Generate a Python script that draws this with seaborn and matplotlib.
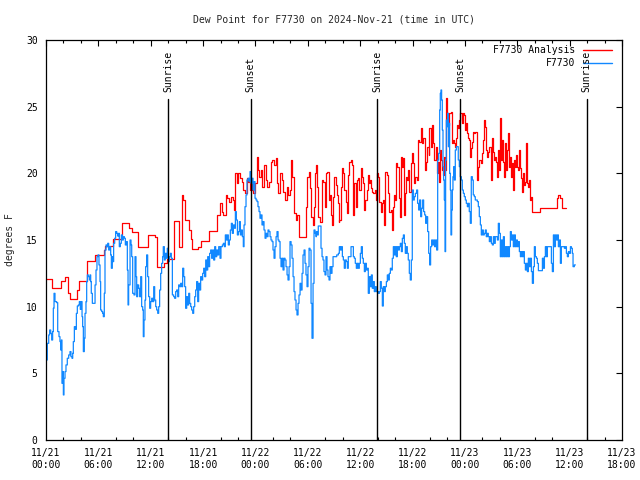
import matplotlib
matplotlib.use("Agg")
import matplotlib.pyplot as plt
import seaborn as sns
import pandas as pd
from matplotlib.lines import Line2D

title = "Dew Point for F7730 on 2024-Nov-21 (time in UTC)"
y_label = "degrees F"
analysis_name = "F7730 Analysis"
obs_name = "F7730"

# hours since 2024-11-21 00:00 UTC
xtick_hours = [0, 6, 12, 18, 24, 30, 36, 42, 48, 54, 60, 66]
xtick_labels = ["11/21\n00:00", "11/21\n06:00", "11/21\n12:00", "11/21\n18:00",
                "11/22\n00:00", "11/22\n06:00", "11/22\n12:00", "11/22\n18:00",
                "11/23\n00:00", "11/23\n06:00", "11/23\n12:00", "11/23\n18:00"]
ytick_values = [0, 5, 10, 15, 20, 25, 30]

event_hours = [14.0, 23.45, 37.95, 47.45, 61.97]
event_names = ["Sunrise", "Sunset", "Sunrise", "Sunset", "Sunrise"]

red_hours = [0.0, 0.73, 1.68, 2.18, 2.56, 2.75, 3.59, 3.74, 4.66, 5.61, 6.65, 6.8, 7.64, 8.67, 9.55, 9.9,
             10.58, 11.73, 12.49, 12.68, 13.56, 13.83, 14.7, 15.24, 15.55, 15.74, 15.93, 16.42, 16.62, 16.69,
             17.46, 17.72, 18.68, 19.63,
             19.94, 20.13, 20.32, 20.59, 20.78, 21.01, 21.2, 21.39, 21.54, 21.66, 21.85, 22.04, 22.23, 22.46,
             22.61, 22.8, 22.99, 23.19, 23.38, 23.57, 23.76, 23.95, 24.14, 24.26, 24.45, 24.6, 24.79, 24.98,
             25.17, 25.36, 25.56, 25.75, 25.94, 26.13, 26.32, 26.51, 26.62, 26.82, 27.01, 27.2, 27.39, 27.58,
             27.77, 27.96, 28.08, 28.23, 28.42, 28.61, 28.8, 28.99, 29.76, 29.95, 30.14,
             30.25, 30.36, 30.56, 30.71, 30.82, 30.94, 31.09, 31.2, 31.4, 31.59, 31.78, 31.97, 32.08, 32.24,
             32.39, 32.54, 32.66, 32.77, 32.92, 33.04, 33.19, 33.31, 33.42, 33.53, 33.61, 33.76, 33.92, 34.07,
             34.18, 34.34, 34.49, 34.64, 34.76, 34.91, 35.06, 35.22, 35.33, 35.48, 35.6, 35.75, 35.9, 36.06,
             36.17, 36.29, 36.44, 36.59, 36.74, 36.86, 37.01, 37.13, 37.24, 37.35, 37.51, 37.66, 37.81, 37.89,
             38.04, 38.2, 38.35, 38.46, 38.58, 38.73, 38.88, 39.04, 39.19, 39.34, 39.49, 39.65, 39.8, 39.91,
             40.03, 40.1, 40.26, 40.41, 40.56, 40.68, 40.83, 40.95, 41.05,
             41.13, 41.25, 41.4, 41.51, 41.63, 41.78, 41.9, 42.01, 42.16, 42.32, 42.47, 42.58, 42.66, 42.78,
             42.93, 43.08, 43.23, 43.39, 43.54, 43.69, 43.85, 43.92, 44.07, 44.23, 44.38, 44.49, 44.65, 44.76,
             44.88, 45.03, 45.14, 45.3, 45.41, 45.53, 45.64, 45.75, 45.87, 45.98, 46.1, 46.21, 46.37, 46.48,
             46.6, 46.75, 46.86, 46.98, 47.13, 47.24, 47.36, 47.47, 47.63, 47.74, 47.86, 48.01, 48.12, 48.2,
             48.35, 48.47, 48.58, 48.7, 48.81, 48.96, 49.08, 49.19, 49.42, 49.54, 49.65, 49.8, 49.92, 50.03,
             50.19, 50.3, 50.41, 50.57, 50.68, 50.8, 50.95, 51.06, 51.18, 51.33, 51.45, 51.56,
             51.64, 51.76, 51.87, 51.95, 52.03, 52.14, 52.26, 52.33, 52.45, 52.56, 52.68, 52.79, 52.9, 53.02,
             53.1, 53.21, 53.32, 53.44, 53.52, 53.63, 53.74, 53.86, 53.97, 54.09, 54.2, 54.32, 54.43, 54.55,
             54.66, 54.78, 54.89, 54.97, 55.08, 55.16, 55.27, 55.39, 55.5, 55.62, 55.69, 56.61, 58.52, 58.71,
             58.9, 59.09, 59.59]
red_dew = [12.05, 11.38, 11.95, 12.2, 11.0, 10.58, 11.25, 11.9, 13.4, 13.9, 14.25, 14.55, 15.05, 16.25, 15.9, 15.6,
           14.45, 15.35, 15.2, 12.95, 13.25, 13.6, 16.4, 14.5, 18.4, 18.0, 16.5, 15.75, 15.1, 14.3,
           14.45, 14.9, 15.7, 16.9,
           17.75, 17.13, 16.88, 18.38, 18.13, 17.88, 18.25, 18.0, 17.25, 20.0, 19.25, 20.0, 19.63, 19.38,
           18.75, 18.5, 19.63, 19.38, 18.75, 19.25, 18.5, 19.25, 21.25, 20.25, 19.75, 20.25, 19.0, 20.63,
           19.5, 19.0, 19.38, 20.88, 21.0, 20.63, 21.13, 19.25, 18.5, 20.0, 19.5, 18.63, 18.0, 19.0,
           18.38, 18.75, 21.0, 19.75, 17.0, 16.5, 16.88, 15.25, 17.5, 19.75, 20.13,
           18.88, 16.75, 16.13, 17.5, 20.0, 20.63, 19.0, 16.75, 16.38, 19.5, 19.38, 17.5, 20.0, 20.13,
           18.0, 18.38, 16.88, 16.13, 18.25, 19.75, 19.13, 18.38, 17.75, 16.38, 16.5, 19.0, 20.38, 20.0,
           18.75, 17.88, 17.0, 19.88, 20.88, 21.0, 20.63, 16.88, 19.25, 17.5, 19.5, 19.63, 18.75, 20.38,
           19.75, 19.25, 17.25, 18.0, 18.75, 19.88, 19.25, 19.5, 18.88, 18.63, 18.5, 18.75, 18.0, 20.0,
           19.75, 17.88, 17.13, 17.75, 18.0, 16.13, 20.13, 19.88, 18.5, 17.13, 17.25, 15.75, 17.5, 18.38,
           18.0, 20.75, 20.5, 18.13, 16.75, 21.25, 20.5, 21.13, 16.9,
           18.5, 19.75, 19.5, 20.25, 18.63, 20.75, 21.5, 20.75, 19.25, 19.75, 19.5, 21.0, 22.5, 22.38,
           23.38, 22.25, 22.63, 20.25, 20.88, 22.0, 21.38, 23.38, 22.0, 23.63, 22.25, 21.0, 22.0, 20.0,
           20.88, 19.38, 21.75, 21.0, 20.25, 19.88, 21.25, 20.25, 25.63, 24.5, 23.63, 24.5, 24.63, 22.25,
           22.5, 22.25, 22.0, 22.63, 23.63, 23.38, 24.0, 24.5, 23.75, 24.5, 24.38, 23.25, 23.75, 23.0,
           22.63, 22.5, 21.25, 21.88, 22.38, 23.13, 23.0, 23.13, 19.5, 20.5, 21.0, 20.75, 21.5, 22.5,
           24.0, 23.5, 21.75, 21.25, 21.63, 22.0, 19.5, 22.63, 21.63, 21.0, 21.25, 20.88,
           19.75, 21.75, 20.88, 20.25, 24.13, 21.0, 22.5, 20.88, 19.75, 22.25, 20.25, 21.75, 23.0, 21.75,
           20.5, 21.25, 19.75, 20.75, 18.75, 21.0, 20.5, 21.38, 20.5, 20.25, 21.75, 20.38, 19.63, 18.63,
           20.0, 19.13, 19.38, 22.25, 22.25, 19.25, 19.0, 19.5, 18.0, 18.25, 17.13, 17.38, 18.13, 18.38,
           18.13, 17.38, 17.38]

blue_hours = [0.0, 0.15, 0.31, 0.42, 0.54, 0.65, 0.76, 0.84, 0.92, 1.03, 1.22, 1.34, 1.49, 1.6, 1.68, 1.76,
              1.83, 1.91, 1.99, 2.06, 2.18, 2.29, 2.44, 2.6, 2.75, 2.86, 2.98, 3.06, 3.13, 3.25, 3.36, 3.48,
              3.59, 3.71, 3.82, 3.93, 4.01, 4.13, 4.2, 4.28, 4.39, 4.47, 4.58, 4.66, 4.74, 4.85, 4.97, 5.04,
              5.12, 5.19, 5.31, 5.5, 5.62, 5.73, 5.84, 5.96, 6.07, 6.19, 6.26, 6.38, 6.49, 6.57, 6.68, 6.76,
              6.88, 6.95, 7.07, 7.18, 7.3, 7.41, 7.49, 7.6, 7.68, 7.75, 7.87, 7.98, 8.1, 8.21, 8.33, 8.4,
              8.52, 8.63, 8.75, 8.86, 8.98, 9.09, 9.21, 9.32, 9.4, 9.47,
              9.63, 9.74, 9.82, 9.93, 10.08, 10.2, 10.31, 10.39, 10.5, 10.62, 10.73, 10.85, 10.96, 11.08,
              11.15, 11.23, 11.34, 11.42, 11.53, 11.65, 11.76, 11.88, 11.99, 12.11, 12.22, 12.34, 12.45, 12.57,
              12.68, 12.8, 12.91, 13.02, 13.14, 13.25, 13.37, 13.44, 13.56, 13.67, 13.79, 13.9, 13.98, 14.06,
              14.13, 14.25, 14.36, 14.48, 14.63, 14.74, 14.86, 14.97, 15.09, 15.2, 15.32, 15.43, 15.55, 15.66,
              15.78, 15.89, 16.0, 16.12, 16.23, 16.35, 16.46, 16.58, 16.69, 16.81, 16.92, 17.04, 17.15, 17.26,
              17.38, 17.49, 17.61, 17.72, 17.84, 17.95, 18.07, 18.18, 18.3, 18.41, 18.53, 18.64, 18.75, 18.87,
              18.98, 19.1, 19.21, 19.33, 19.44, 19.56, 19.67, 19.79,
              19.94, 20.05, 20.21, 20.32, 20.44, 20.55, 20.67, 20.78, 20.89, 21.01, 21.12, 21.24, 21.35, 21.47,
              21.58, 21.7, 21.81, 21.93, 22.04, 22.16, 22.27, 22.38, 22.5, 22.61, 22.69, 22.8, 22.92, 23.03,
              23.15, 23.26, 23.38, 23.49, 23.61, 23.72, 23.84, 23.95, 24.07, 24.18, 24.29, 24.41, 24.52, 24.64,
              24.75, 24.87, 24.98, 25.1, 25.21, 25.33, 25.44, 25.55, 25.67, 25.78, 25.9, 26.01, 26.13, 26.24,
              26.36, 26.47, 26.59, 26.7, 26.82, 26.93, 27.05, 27.16, 27.27, 27.39, 27.5, 27.62, 27.73, 27.85,
              27.96, 28.08, 28.19, 28.31, 28.42, 28.53, 28.65, 28.76, 28.88, 28.99, 29.11, 29.22, 29.34, 29.45,
              29.57, 29.68, 29.79, 29.91, 30.02, 30.14, 30.25, 30.37, 30.48, 30.6, 30.71, 30.83, 30.94,
              30.98, 31.09, 31.2, 31.4, 31.51, 31.63, 31.74, 31.85, 31.97, 32.08, 32.2, 32.31, 32.43, 32.54,
              32.66, 32.77, 32.89, 33.11, 33.31, 33.5, 33.61, 33.73, 33.84, 33.96, 34.07, 34.18, 34.3, 34.41,
              34.53, 34.64, 34.83, 34.95, 35.1, 35.22, 35.33, 35.44, 35.56, 35.67, 35.79, 35.9, 36.02, 36.13,
              36.25, 36.36, 36.48, 36.59, 36.71, 36.82, 36.93, 37.05, 37.16, 37.28, 37.39, 37.51, 37.62, 37.74,
              37.85, 37.97, 38.08, 38.2, 38.31, 38.42, 38.54, 38.65, 38.77, 38.88, 39.0, 39.11, 39.23, 39.34,
              39.46, 39.57, 39.68, 39.8, 39.91, 40.03, 40.14, 40.26, 40.37, 40.49, 40.6, 40.72, 40.83, 40.95,
              41.06, 41.17,
              41.29, 41.4, 41.51, 41.63, 41.74, 41.86, 41.97, 42.09, 42.2, 42.32, 42.47, 42.58, 42.7, 42.81,
              42.93, 43.04, 43.16, 43.27, 43.39, 43.5, 43.62, 43.73, 43.85, 43.96, 44.07, 44.19, 44.3, 44.42,
              44.53, 44.65, 44.76, 44.88, 44.99, 45.11, 45.18, 45.26, 45.33, 45.41, 45.49, 45.56, 45.64, 45.72,
              45.79, 45.87, 45.95, 46.02, 46.1, 46.17, 46.25, 46.33, 46.4, 46.48, 46.56, 46.63, 46.71, 46.79,
              46.9, 47.02, 47.13, 47.24, 47.36, 47.47, 47.59, 47.7, 47.82, 47.93, 48.05, 48.16, 48.28, 48.39,
              48.5, 48.62, 48.73, 48.85, 48.96, 49.08, 49.19, 49.31, 49.42, 49.54, 49.65, 49.77, 49.88, 50.0,
              50.11, 50.22, 50.34, 50.45, 50.57, 50.68, 50.8, 50.91, 51.03, 51.14, 51.26, 51.37, 51.48,
              51.72, 51.83, 51.95, 52.06, 52.18, 52.29, 52.41, 52.52, 52.64, 52.75, 52.87, 52.98, 53.1, 53.21,
              53.32, 53.44, 53.55, 53.67, 53.78, 53.9, 54.01, 54.13, 54.24, 54.36, 54.47, 54.59, 54.7, 54.81,
              54.93, 55.04, 55.16, 55.27, 55.39, 55.5, 55.62, 55.73, 55.85, 55.96, 56.07, 56.19, 56.3, 56.42,
              56.8, 56.88, 56.99, 57.11, 57.22, 57.34, 57.45, 57.91, 58.02, 58.14, 58.25, 58.37, 58.48, 58.6,
              58.71, 58.83, 58.94, 59.05, 59.4, 59.51, 59.63, 59.74, 59.86, 59.97, 60.09, 60.2, 60.31, 60.39,
              60.54, 60.66]
blue_dew = [6.0, 7.25, 7.88, 8.25, 8.0, 7.5, 8.13, 9.88, 11.0, 10.38, 10.3, 8.13, 7.75, 7.38, 6.75, 7.5,
            4.25, 5.13, 3.38, 4.63, 5.13, 5.63, 6.13, 6.38, 6.63, 6.25, 6.13, 6.5, 7.38, 8.5, 8.3, 9.5,
            10.05, 10.13, 10.38, 9.8, 10.38, 9.25, 8.5, 6.63, 7.63, 9.5, 10.38, 11.88, 12.38, 12.25, 12.0, 12.38,
            11.88, 11.0, 10.25, 10.25, 11.63, 12.75, 13.75, 13.88, 13.13, 11.88, 9.75, 9.63, 9.5, 9.25, 11.0, 14.25,
            14.63, 14.5, 14.75, 14.25, 14.5, 13.88, 12.88, 13.75, 13.38, 14.75, 15.13, 15.63, 15.5, 15.3, 15.5, 14.5,
            14.75, 15.38, 15.0, 15.25, 15.13, 14.63, 14.88, 12.75, 10.13, 11.63,
            15.0, 14.63, 13.75, 11.0, 10.88, 13.75, 12.25, 10.75, 11.63, 11.38, 10.75, 12.25, 10.0, 9.75,
            7.75, 9.0, 10.5, 13.0, 13.88, 12.25, 10.75, 9.88, 10.38, 10.63, 10.38, 11.5, 10.5, 10.0,
            9.75, 9.5, 10.0, 11.25, 12.5, 13.25, 13.75, 14.5, 13.5, 14.0, 13.63, 14.38, 13.75, 13.38,
            13.75, 14.0, 13.63, 10.88, 10.75, 10.63, 11.13, 11.25, 10.75, 11.63, 11.5, 11.75, 11.5, 12.88,
            12.25, 11.5, 9.88, 10.75, 10.13, 11.0, 10.25, 10.0, 9.75, 9.5, 10.0, 10.75, 11.25, 11.88,
            10.38, 11.75, 11.25, 12.25, 12.0, 12.5, 12.88, 12.25, 13.5, 12.75, 13.75, 13.0, 14.0, 14.25,
            13.63, 14.25, 13.5, 14.5, 13.75, 14.25, 13.88, 14.5,
            13.63, 14.5, 14.63, 14.75, 14.5, 15.38, 15.0, 15.38, 14.63, 15.0, 15.75, 16.25, 15.5, 16.13,
            15.88, 17.13, 16.5, 15.38, 15.63, 16.38, 15.38, 15.75, 15.25, 14.5, 16.13, 17.5, 18.38, 19.5,
            19.63, 19.38, 20.13, 19.25, 19.63, 18.75, 19.38, 18.13, 18.0, 17.88, 17.5, 17.13, 16.63, 16.88,
            16.13, 16.38, 15.75, 15.13, 15.5, 15.25, 15.75, 15.63, 15.25, 15.0, 14.88, 14.25, 13.63, 14.5,
            15.25, 15.63, 15.0, 14.88, 13.63, 13.0, 13.63, 12.75, 13.63, 13.5, 13.0, 12.38, 12.0, 13.0,
            14.88, 14.63, 13.63, 12.25, 11.13, 10.5, 9.75, 9.38, 10.25, 10.88, 11.75, 11.25, 12.5, 13.88,
            14.25, 13.25, 12.38, 11.5, 13.0, 14.38, 14.25, 10.25, 7.63, 11.75, 15.75, 15.5, 15.25,
            15.63, 15.38, 16.05, 16.05, 14.38, 13.75, 13.5, 12.63, 12.38, 13.75, 12.75, 12.25, 12.0, 13.0,
            12.5, 13.0, 13.75, 13.75, 13.88, 14.0, 14.5, 14.25, 14.5, 13.75, 13.5, 12.88, 13.5, 13.38,
            12.88, 13.75, 13.75, 14.5, 14.5, 13.75, 13.63, 13.25, 12.88, 13.25, 12.88, 13.25, 14.0, 14.5,
            13.63, 13.25, 12.63, 13.25, 12.75, 12.88, 11.0, 12.25, 11.5, 12.38, 11.38, 11.88, 11.13, 11.5,
            11.13, 11.13, 11.0, 11.13, 11.88, 11.38, 10.05, 11.5, 11.13, 11.5, 11.88, 12.38, 12.0, 12.5,
            12.88, 12.75, 13.63, 14.5, 13.88, 14.5, 13.75, 14.5, 14.25, 14.5, 14.75, 14.13, 15.13, 15.38,
            14.75, 14.0,
            14.5, 14.0, 13.5, 12.5, 12.0, 13.5, 18.75, 18.0, 18.25, 18.5, 18.75, 17.75, 17.25, 18.0,
            16.75, 17.38, 18.0, 17.13, 16.88, 16.25, 16.75, 15.63, 14.0, 13.13, 14.5, 15.0, 14.63, 15.0,
            14.5, 15.0, 14.25, 21.0, 21.5, 24.75, 26.0, 26.25, 25.5, 23.25, 20.5, 19.5, 18.0, 14.13,
            21.0, 24.0, 23.5, 24.5, 22.0, 23.75, 20.0, 18.75, 15.38, 17.25, 18.75, 19.75, 20.5, 19.5,
            21.75, 22.0, 22.0, 21.0, 20.5, 19.75, 19.5, 18.75, 18.5, 18.25, 18.0, 17.75, 17.5, 17.75,
            17.13, 16.25, 19.75, 19.5, 18.38, 18.25, 18.0, 18.0, 17.88, 17.5, 16.75, 16.13, 15.38, 15.75,
            15.38, 15.5, 15.75, 15.25, 15.5, 15.25, 14.88, 15.25, 14.75, 14.63, 15.25, 14.75, 15.25,
            15.0, 16.25, 15.5, 13.75, 15.0, 13.75, 15.25, 13.75, 14.5, 13.75, 14.5, 13.75, 14.5, 15.63,
            15.0, 15.38, 14.5, 15.38, 14.5, 15.0, 14.5, 14.88, 14.13, 13.75, 14.13, 13.75, 14.13, 13.25,
            12.75, 13.25, 12.63, 13.63, 13.0, 13.63, 12.63, 11.75, 13.0, 14.5, 13.75, 13.63, 13.25, 12.7,
            12.7, 13.63, 12.88, 13.75, 14.5, 13.75, 14.5, 13.25, 12.63, 15.38, 14.5, 15.38, 15.0, 15.38,
            14.5, 15.0, 13.25, 14.5, 14.38, 14.5, 14.0, 13.75, 14.13, 14.0, 14.5, 14.38, 14.0, 13.0,
            13.13, 13.13]

red_df = pd.DataFrame({"hours": red_hours, "dew": red_dew})
blue_df = pd.DataFrame({"hours": blue_hours, "dew": blue_dew})

sns.set_theme(style="white")
mono = ["DejaVu Sans Mono", "DejaVu Sans"]
plt.rcParams["font.family"] = mono
plt.rcParams["font.size"] = 7

fig = plt.figure(figsize=(6.4, 4.8), dpi=100)
ax = fig.add_axes([46 / 640, 40 / 480, 576 / 640, 400 / 480])
ax.set_facecolor("white")

red_col = "#ff0000"
blue_col = "#1188ff"

sns.lineplot(data=red_df, x="hours", y="dew", ax=ax, color=red_col, linewidth=0.9,
             drawstyle="steps-post", estimator=None, sort=False, legend=False)
sns.lineplot(data=blue_df, x="hours", y="dew", ax=ax, color=blue_col, linewidth=0.9,
             drawstyle="steps-post", estimator=None, sort=False, legend=False)

ax.set_xlim(0, 66)
ax.set_ylim(0, 30)

for h, name in zip(event_hours, event_names):
    ax.axvline(h, ymin=0, ymax=25.6 / 30, color="black", linewidth=1.0)
    ax.text(h, 26.1, name, rotation=90, ha="center", va="bottom", fontsize=7,
            color="black", family=mono)

ax.set_xticks(xtick_hours)
ax.set_xticklabels(xtick_labels, fontsize=7, family=mono, linespacing=1.25)
ax.set_xticks(list(range(0, 67, 2)), minor=True)
ax.set_yticks(ytick_values)
ax.set_yticklabels([str(v) for v in ytick_values], fontsize=7, family=mono)
ax.tick_params(axis="both", which="major", direction="in", length=4, width=0.8,
               top=True, right=True, color="black", labelcolor="black")
ax.tick_params(axis="x", which="major", pad=6)
ax.tick_params(axis="y", which="major", pad=6)
ax.tick_params(axis="x", which="minor", direction="in", length=2.5, width=0.8,
               top=True, bottom=True, color="black")
ax.set_xlabel("")
ax.set_ylabel("")
for sp in ax.spines.values():
    sp.set_color("black")
    sp.set_linewidth(0.9)
    sp.set_visible(True)

# legend (gnuplot style: text then sample)
ax.text(0.918, 0.975, analysis_name, transform=ax.transAxes, ha="right", va="center",
        fontsize=7, family=mono, color="black")
ax.add_line(Line2D([0.932, 0.983], [0.975, 0.975], transform=ax.transAxes,
                   color=red_col, linewidth=1.0))
ax.text(0.918, 0.9425, obs_name, transform=ax.transAxes, ha="right", va="center",
        fontsize=7, family=mono, color="black")
ax.add_line(Line2D([0.932, 0.983], [0.9425, 0.9425], transform=ax.transAxes,
                   color=blue_col, linewidth=1.0))

fig.text(334 / 640, 1 - 19 / 480, title, ha="center", va="center", fontsize=7, family=mono)
fig.text(10 / 640, 0.5, y_label, rotation=90, ha="center", va="center", fontsize=7, family=mono)

fig.savefig("out.png", dpi=100)
